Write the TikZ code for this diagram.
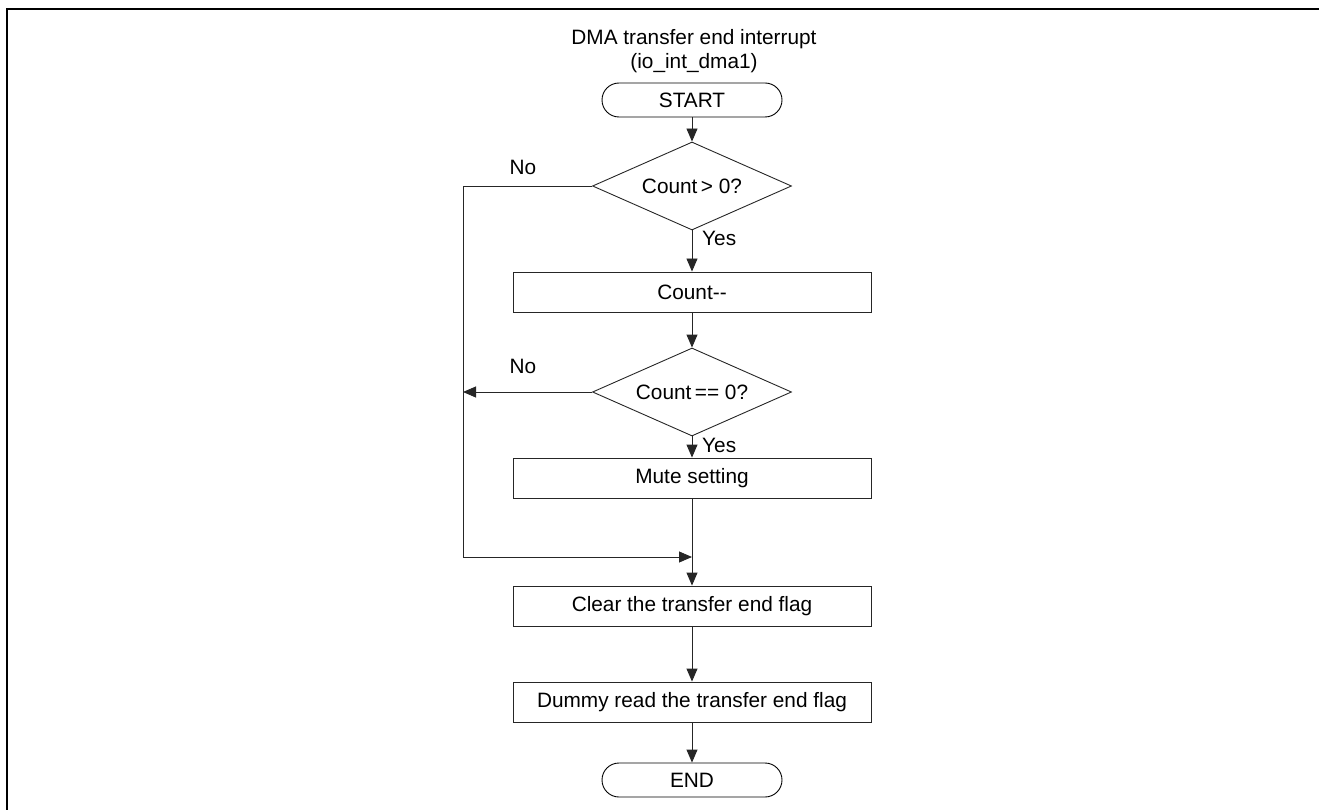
\documentclass[tikz,border=0pt]{standalone}
\usepackage{fontspec}
\setmainfont{Liberation Sans}
\usetikzlibrary{shapes.geometric,arrows.meta}
\begin{document}
\begin{tikzpicture}[x=1pt,y=-1pt,
  every node/.style={font=\fontsize{20.8}{23.5}\selectfont, text=black, inner sep=0pt},
  line/.style={draw=black!85, line width=0.9pt},
  arr/.style={line, -{Triangle[length=13pt,width=11pt]}},
  proc/.style={line, rectangle, minimum width=358pt, minimum height=40pt},
  term/.style={draw, line width=0.9pt, rounded corners=17pt, minimum width=180pt, minimum height=34pt},
  dec/.style={line, diamond, aspect=2.26, minimum width=199pt, minimum height=88pt}]
\useasboundingbox (0,0) rectangle (1319,810);
\draw[line width=2.5pt] (7,810) -- (7,9) -- (1319,9);
\node[align=center] (title) at (694,51) {DMA transfer end interrupt\\(io\_int\_dma1)};
\node[term] (start) at (692,100) {START};
\node[dec] (d1) at (692,186) {};
\node (t1) at (d1) {Count\,> 0?};
\node[proc] (dec1) at (692,292) {Count-{}-};
\node[dec] (d2) at (692,392) {};
\node (t2) at (d2) {Count\,== 0?};
\node[proc] (mute) at (692,478) {Mute setting};
\node[proc] (clear) at (692,606) {Clear the transfer end flag};
\node[proc] (dummy) at (692,702) {Dummy read the transfer end flag};
\node[term] (end) at (692,780) {END};
\coordinate (lx) at (463,186);
\coordinate (ln) at (463,392);
\coordinate (jl) at (463,557);
\coordinate (jm) at (692,557);
\node (no1) at (523,167) {No};
\node (no2) at (523,366) {No};
\node[anchor=west] (yes1) at (702,238) {Yes};
\node[anchor=west] (yes2) at (702,445) {Yes};
\draw[arr] (start) -- (d1);
\draw[arr] (d1) -- (dec1);
\draw[arr] (dec1) -- (d2);
\draw[arr] (d2) -- (mute);
\draw[line] (d1.west) -- (lx) -- (jl);
\draw[arr] (jl) -- (jm);
\draw[arr] (d2.west) -- (ln);
\draw[line] (mute) -- (jm);
\draw[arr] (jm) -- (clear);
\draw[arr] (clear) -- (dummy);
\draw[arr] (dummy) -- (end);
\end{tikzpicture}
\end{document}
